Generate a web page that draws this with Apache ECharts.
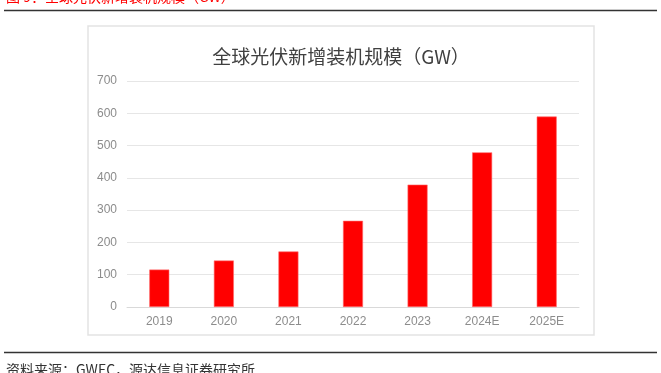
<!DOCTYPE html>
<html><head><meta charset="utf-8">
<script src="https://cdn.jsdelivr.net/npm/echarts@6/dist/echarts.min.js"></script>
<style>html,body{margin:0;padding:0;background:#fff;}#c{width:661px;height:373px;}</style>
</head><body><div id="c"></div>
<script>
var categories = ['2019','2020','2021','2022','2023','2024E','2025E'];
var capacity = [116, 144, 172, 267, 379, 479, 590];
var yTicks = [0,100,200,300,400,500,600,700];
var chartTitle = '全球光伏新增装机规模（GW）';
var figCaption = '图 9：全球光伏新增装机规模（GW）';
var sourceNote = '资料来源：GWEC，源达信息证券研究所';

var chart = echarts.init(document.getElementById('c'), null, {renderer:'canvas'});
var cjk = '"Noto Sans CJK SC", "Liberation Sans", sans-serif';
chart.setOption({
  animation:false,
  backgroundColor:'#fff',
  title:{text:chartTitle, left:336, top:42, textAlign:'center',
    textStyle:{fontFamily:cjk, fontSize:19, fontWeight:'normal', color:'#404040'}},
  graphic:[
    {type:'text', left:6, top:-10, style:{text:figCaption, fill:'#ff0000', font:'14px ' + cjk}},
    {type:'line', shape:{x1:4,y1:10.5,x2:657,y2:10.5}, style:{stroke:'#333',lineWidth:1.3}},
    {type:'rect', shape:{x:88,y:26,width:506,height:309}, style:{fill:'none', stroke:'#e3e3e3', lineWidth:1.5}, z:-1},
    {type:'line', shape:{x1:4,y1:352.5,x2:657,y2:352.5}, style:{stroke:'#333',lineWidth:1.3}},
    {type:'text', left:6, top:363, style:{text:sourceNote, fill:'#333', font:'14px ' + cjk}}
  ],
  grid:{left:127, right:82, top:81, bottom:66, containLabel:false},
  xAxis:{type:'category', data:categories,
    axisLine:{show:true, lineStyle:{color:'#d9d9d9', width:1}},
    axisTick:{show:false},
    axisLabel:{color:'#8c8c8c', fontSize:12, fontFamily:'"Liberation Sans", sans-serif', margin:9}},
  yAxis:{type:'value', min:yTicks[0], max:yTicks[yTicks.length-1], interval:100,
    axisLine:{show:false}, axisTick:{show:false},
    splitLine:{lineStyle:{color:'#e6e6e6', width:1}},
    axisLabel:{color:'#8c8c8c', fontSize:12, fontFamily:'"Liberation Sans", sans-serif', margin:10}},
  series:[{type:'bar', data:capacity, barWidth:20,
    itemStyle:{color:'#ff0000', borderColor:'#ff6b6b', borderWidth:0.6}}]
});
</script></body></html>
